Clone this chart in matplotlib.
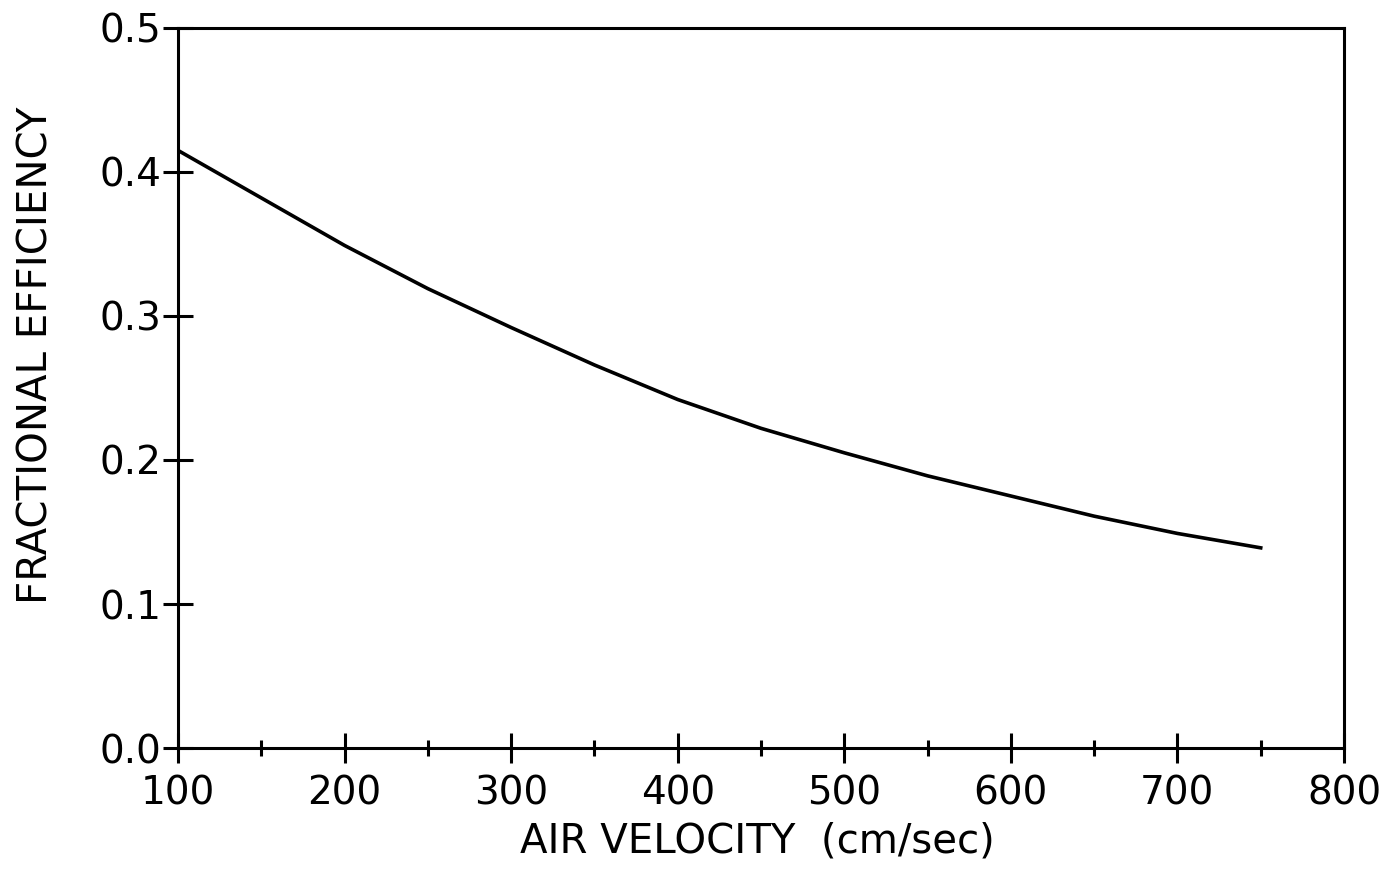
import numpy as np
import matplotlib.pyplot as plt
from matplotlib.ticker import MultipleLocator

# curve
velocity = [100, 150, 200, 250, 300, 350, 400, 450, 500, 550, 600, 650, 700, 750]
efficiency = [0.415, 0.382, 0.349, 0.319, 0.292, 0.266, 0.242, 0.222, 0.205,
              0.189, 0.175, 0.161, 0.149, 0.139]

plt.rcParams['font.family'] = ['DejaVu Sans']

fig = plt.figure(figsize=(13.93, 8.71), dpi=100)
ax = fig.add_axes([178/1393, 1 - 748/871, (1344-178)/1393, (748-28)/871])

ax.plot(velocity, efficiency, color='black', lw=2.6, solid_joinstyle='round')

ax.set_xlim(100, 800)
ax.set_ylim(0, 0.5)
ax.xaxis.set_major_locator(MultipleLocator(100))
ax.xaxis.set_minor_locator(MultipleLocator(50))
ax.yaxis.set_major_locator(MultipleLocator(0.1))
ax.yaxis.set_major_formatter(plt.FormatStrFormatter('%.1f'))

for s in ax.spines.values():
    s.set_linewidth(2.2)

ax.tick_params(axis='both', which='major', direction='inout', length=22, width=2.2,
               labelsize=28)
ax.tick_params(axis='x', which='major', pad=8)
ax.tick_params(axis='y', which='major', pad=1)
ax.tick_params(axis='x', which='minor', direction='inout', length=12, width=2.2)
ax.tick_params(top=False, right=False)

ax.set_xlabel('AIR VELOCITY  (cm/sec)', fontsize=29)
ax.set_ylabel('FRACTIONAL EFFICIENCY', fontsize=29)
ax.xaxis.set_label_coords(0.497, -0.102)
ax.yaxis.set_label_coords(-0.104, 0.546)

fig.savefig('out.png', dpi=100)
